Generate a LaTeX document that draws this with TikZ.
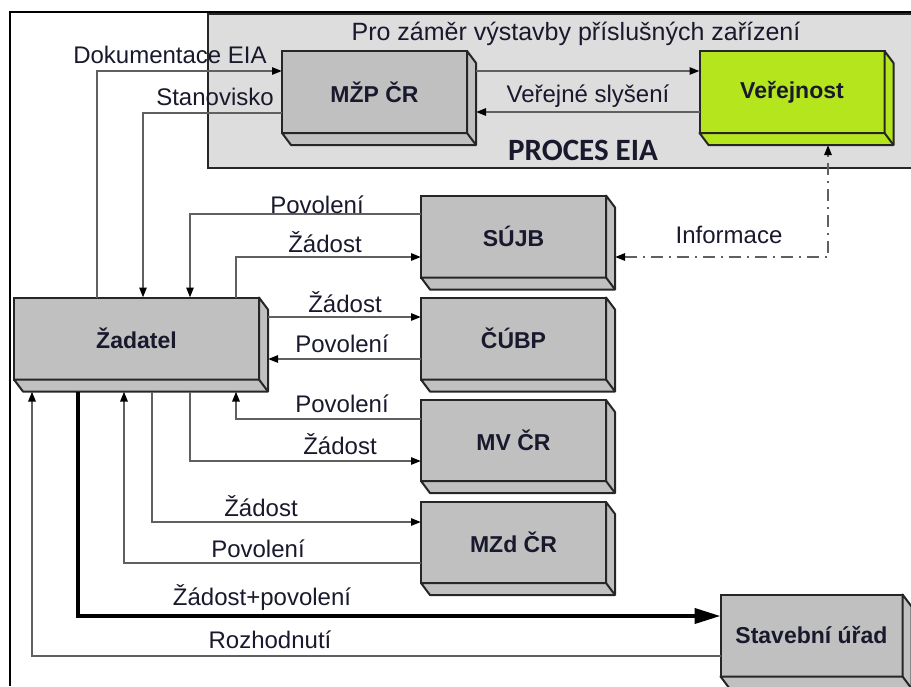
\documentclass[tikz,border=0pt]{standalone}
\usepackage{fontspec}
\setmainfont{Liberation Sans}
\newfontfamily\calib{Carlito}
\usepackage{tikz}
\usetikzlibrary{arrows.meta}
\definecolor{boxgray}{RGB}{192,192,192}
\definecolor{eiagray}{RGB}{221,221,221}
\definecolor{vergreen}{RGB}{181,230,29}
\definecolor{linegray}{RGB}{96,96,96}
\definecolor{txt}{RGB}{25,25,45}

\tikzset{
  blok/.style={draw=black!85, fill=boxgray, line width=1pt, inner sep=0pt, outer sep=0pt,
    minimum width=92.5pt, minimum height=41pt, text=txt,
    font=\bfseries\fontsize{11.5}{13}\selectfont},
  lbl/.style={anchor=base, inner sep=0pt, text=txt, font=\fontsize{12}{14}\selectfont},
  spoj/.style={draw=linegray, line width=1pt, -{Triangle[length=5pt,width=3.6pt,color=black]}},
  hlavni/.style={draw=black, line width=2pt, -{Triangle[length=13pt,width=7.5pt]}},
  info/.style={draw=linegray, line width=1pt, dash pattern=on 6pt off 3pt on 1pt off 3pt,
    {Triangle[length=5pt,width=3.6pt,color=black]}-{Triangle[length=5pt,width=3.6pt,color=black]}}
}

\begin{document}
\begin{tikzpicture}[x=0.5pt, y=-0.5pt]
  \useasboundingbox (0,0) rectangle (911,686);
  % frame and EIA area
  \draw[line width=1pt] (10,686) |- (911,12);
  \draw[fill=eiagray, draw=black!85, line width=1pt] (208,14) rectangle (916,168);
  \node[lbl, font=\fontsize{12.5}{14}\selectfont] (pro) at (576,40) {Pro záměr výstavby příslušných zařízení};
  \node[lbl, font=\calib\bfseries\fontsize{15.5}{17}\selectfont] (proces) at (583,160) {PROCES EIA};

  % boxes
  \node[blok] (mzp) at (374.5,92) {MŽP ČR};
  \node[blok, fill=vergreen] (ver) at (792,92) {Veřejnost};
  \node[blok, minimum width=122.5pt] (zad) at (136.5,338.5) {Žadatel};
  \node[blok] (sujb) at (513.5,236.5) {SÚJB};
  \node[blok] (cubp) at (513.5,338.5) {ČÚBP};
  \node[blok, minimum height=40.5pt] (mv) at (513.5,440.5) {MV ČR};
  \node[blok, minimum height=40.5pt] (mzd) at (513.5,542.5) {MZd ČR};
  \node[blok, minimum width=91pt] (stav) at (811.5,635.5) {Stavební úřad};

  \foreach \n/\c in {mzp/boxgray, ver/vergreen, zad/boxgray, sujb/boxgray,
                     cubp/boxgray, mv/boxgray, mzd/boxgray, stav/boxgray}{
    \draw[fill=\c, draw=black!85, line width=1pt, line join=round]
      (\n.north east) -- ([shift={(9,12)}]\n.north east) -- ([shift={(9,12)}]\n.south east)
      -- ([shift={(9,12)}]\n.south west) -- (\n.south west) -- (\n.south east) -- cycle;
    \draw[draw=black!85, line width=1pt] (\n.south east) -- ([shift={(9,12)}]\n.south east);
  }

  % EIA process
  \draw[spoj] (zad.north -| 97,0) |- (mzp.west |- 0,71);
  \draw[spoj] (mzp.west |- 0,113) -| (zad.north -| 143,0);
  \draw[spoj, shorten <=4.5pt] (mzp.east |- 0,71) -- (ver.west |- 0,71);
  \draw[spoj, shorten >=4.5pt] (ver.west |- 0,112) -- (mzp.east |- 0,112);
  \node[lbl] (dok) at (170,63) {Dokumentace EIA};
  \node[lbl] (stan) at (215,105) {Stanovisko};
  \node[lbl] (slys) at (588,102) {Veřejné slyšení};

  % permits
  \draw[spoj] (sujb.west |- 0,214) -| (zad.north -| 190,0);
  \draw[spoj] (zad.north -| 236,0) |- (sujb.west |- 0,257);
  \draw[spoj, shorten <=4.5pt] (zad.east |- 0,317) -- (cubp.west |- 0,317);
  \draw[spoj, shorten >=4.5pt] (cubp.west |- 0,359) -- (zad.east |- 0,359);
  \draw[spoj, shorten >=6pt] (mv.west |- 0,419) -| (zad.south -| 236,0);
  \draw[spoj, shorten <=6pt] (zad.south -| 190,0) |- (mv.west |- 0,461);
  \draw[spoj, shorten <=6pt] (zad.south -| 152,0) |- (mzd.west |- 0,522);
  \draw[spoj, shorten >=6pt] (mzd.west |- 0,563) -| (zad.south -| 124,0);
  \draw[hlavni, shorten <=6pt] (zad.south -| 78,0) |- (stav.west |- 0,616);
  \draw[spoj, shorten >=6pt] (stav.west |- 0,656) -| (zad.south -| 32,0);
  \draw[info, shorten <=4.5pt, shorten >=6pt] (sujb.east |- 0,257) -| (ver.south -| 828,0);

  \node[lbl] (pov1) at (317,213) {Povolení};
  \node[lbl] (zad1) at (325,252) {Žádost};
  \node[lbl] (zad2) at (345,312) {Žádost};
  \node[lbl] (pov2) at (342,352) {Povolení};
  \node[lbl] (pov3) at (342,412) {Povolení};
  \node[lbl] (zad3) at (340,454) {Žádost};
  \node[lbl] (zad4) at (261,516) {Žádost};
  \node[lbl] (pov4) at (258,557) {Povolení};
  \node[lbl] (zadpov) at (262,605) {Žádost+povolení};
  \node[lbl] (rozh) at (270,648) {Rozhodnutí};
  \node[lbl] (inf) at (729,243) {Informace};
\end{tikzpicture}
\end{document}
